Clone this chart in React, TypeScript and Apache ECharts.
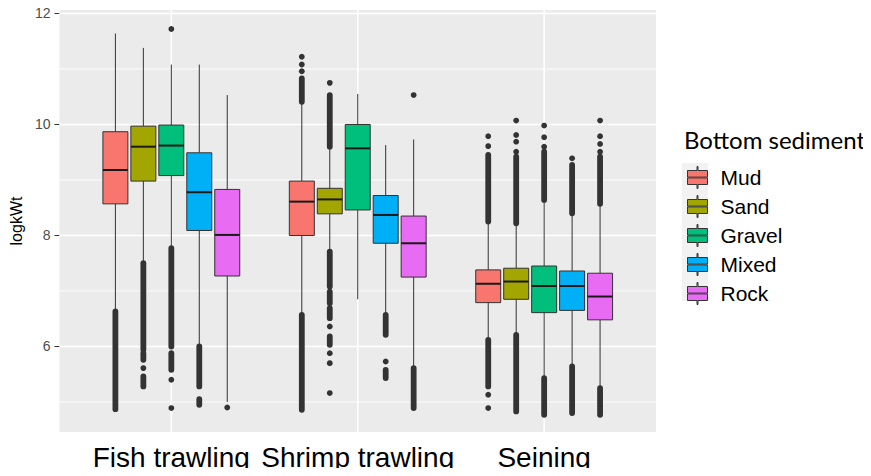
import React, { useEffect, useRef } from "react";
import * as echarts from "echarts";

// ---------- data ----------
const categories = ["Fish trawling", "Shrimp trawling", "Seining"];
const sediments = ["Mud", "Sand", "Gravel", "Mixed", "Rock"];
const colors = ["#F8766D", "#A3A500", "#00BF7D", "#00B0F6", "#E76BF3"];

// box stats per category: [lowerWhisker, Q1, median, Q3, upperWhisker]
const mudBoxes = [
  [6.63, 8.57, 9.18, 9.87, 11.64],
  [6.57, 8.0, 8.61, 8.98, 10.41],
  [6.12, 6.79, 7.13, 7.38, 8.25],
];
const sandBoxes = [
  [7.5, 8.98, 9.6, 9.97, 11.38],
  [7.71, 8.39, 8.65, 8.85, 9.6],
  [6.21, 6.85, 7.17, 7.41, 8.22],
];
const gravelBoxes = [
  [7.77, 9.08, 9.62, 9.99, 11.08],
  [6.85, 8.46, 9.57, 10.0, 10.55],
  [5.43, 6.61, 7.09, 7.45, 8.64],
];
const mixedBoxes = [
  [6.0, 8.09, 8.78, 9.49, 11.08],
  [6.57, 7.86, 8.37, 8.72, 9.63],
  [5.64, 6.65, 7.09, 7.36, 8.4],
];
const rockBoxes = [
  [5.0, 7.27, 8.01, 8.83, 10.53],
  [5.61, 7.25, 7.86, 8.35, 9.73],
  [5.25, 6.48, 6.9, 7.32, 8.57],
];

// outliers: [categoryIndex (0-based), low, high] (low === high -> a single point, else a dense run of points)
const mudOutliers = [
  [0, 4.87, 6.63],
  [1, 11.22, 11.22], [1, 11.08, 11.08], [1, 10.96, 10.96], [1, 10.41, 10.83], [1, 4.86, 6.57],
  [2, 9.79, 9.79], [2, 9.61, 9.61], [2, 8.25, 9.45], [2, 5.28, 6.12], [2, 5.13, 5.13], [2, 4.89, 4.89],
];
const sandOutliers = [
  [0, 5.94, 7.5], [0, 5.76, 5.88], [0, 5.61, 5.61], [0, 5.28, 5.46],
  [1, 10.75, 10.75], [1, 9.6, 10.53], [1, 7.08, 7.71], [1, 6.78, 6.99], [1, 6.51, 6.69],
  [1, 6.36, 6.36], [1, 6.03, 6.18], [1, 5.88, 5.88], [1, 5.7, 5.7], [1, 5.16, 5.16],
  [2, 10.07, 10.07], [2, 9.81, 9.81], [2, 9.69, 9.69], [2, 9.51, 9.51], [2, 8.22, 9.42], [2, 4.83, 6.21],
];
const gravelOutliers = [
  [0, 11.72, 11.72], [0, 6.0, 7.77], [0, 5.58, 5.88], [0, 5.4, 5.4], [0, 4.89, 4.89],
  [2, 9.98, 9.98], [2, 9.77, 9.77], [2, 9.6, 9.6], [2, 8.64, 9.51], [2, 4.77, 5.43],
];
const mixedOutliers = [
  [0, 5.28, 6.0], [0, 4.95, 5.05],
  [1, 6.21, 6.57], [1, 5.73, 5.73], [1, 5.43, 5.58],
  [2, 9.39, 9.39], [2, 8.4, 9.27], [2, 4.8, 5.64],
];
const rockOutliers = [
  [0, 4.9, 4.9],
  [1, 10.53, 10.53], [1, 4.89, 5.61],
  [2, 10.07, 10.07], [2, 9.79, 9.79], [2, 9.65, 9.65], [2, 9.51, 9.51], [2, 8.57, 9.42], [2, 4.77, 5.25],
];

const yMajorTicks = [6, 8, 10, 12];
const yMinorTicks = [5, 7, 9, 11];
const xTicks = [1, 2, 3];

const allBoxes = [mudBoxes, sandBoxes, gravelBoxes, mixedBoxes, rockBoxes];
const allOutliers = [mudOutliers, sandOutliers, gravelOutliers, mixedOutliers, rockOutliers];

// ---------- layout / style ----------
const DODGE = 0.15;
const BOX_W = 0.134;
const DARK = "#333333";

const legendIcon =
  "path://M9.5,0 L10.5,0 L10.5,4 L20,4 L20,10.6 L0,10.6 L0,4 L9.5,4 Z M0,11.4 L20,11.4 L20,18 L10.5,18 L10.5,22 L9.5,22 L9.5,18 L0,18 Z";

export default function App() {
  const ref = useRef<HTMLDivElement>(null);

  useEffect(() => {
    if (!ref.current) return;
    const chart = echarts.init(ref.current, null, { renderer: "svg" });

    const boxSeries = sediments.map((name, s) => ({
      name,
      type: "custom",
      z: 3,
      itemStyle: { color: colors[s] },
      encode: { x: 0, y: [1, 2, 3, 4, 5] },
      data: allBoxes[s].map((b, c) => [c + 1, ...b]),
      renderItem: (params: any, api: any) => {
        const xc = api.value(0) + (s - 2) * DODGE;
        const lo = api.coord([xc, api.value(1)]);
        const q1 = api.coord([xc, api.value(2)]);
        const med = api.coord([xc, api.value(3)]);
        const q3 = api.coord([xc, api.value(4)]);
        const hi = api.coord([xc, api.value(5)]);
        const hw = api.size([BOX_W, 0])[0] / 2;
        const x = q1[0];
        return {
          type: "group",
          children: [
            { type: "line", shape: { x1: x, y1: hi[1], x2: x, y2: q3[1] }, style: { stroke: DARK, lineWidth: 1 } },
            { type: "line", shape: { x1: x, y1: q1[1], x2: x, y2: lo[1] }, style: { stroke: DARK, lineWidth: 1 } },
            {
              type: "rect",
              shape: { x: x - hw, y: q3[1], width: hw * 2, height: q1[1] - q3[1] },
              style: { fill: colors[s], stroke: DARK, lineWidth: 1 },
            },
            {
              type: "line",
              shape: { x1: x - hw, y1: med[1], x2: x + hw, y2: med[1] },
              style: { stroke: "#1a1a1a", lineWidth: 2 },
            },
          ],
        };
      },
    }));

    const outlierSeries = sediments.map((name, s) => ({
      name,
      type: "custom",
      z: 4,
      itemStyle: { color: colors[s] },
      encode: { x: 0, y: [1, 2] },
      data: allOutliers[s].map(([c, lo, hi]) => [c + 1, lo, hi]),
      renderItem: (params: any, api: any) => {
        const xc = api.value(0) + (s - 2) * DODGE;
        const lo = api.coord([xc, api.value(1)]);
        const hi = api.coord([xc, api.value(2)]);
        if (Math.abs(lo[1] - hi[1]) < 0.5) {
          return { type: "circle", shape: { cx: lo[0], cy: lo[1], r: 2.9 }, style: { fill: DARK } };
        }
        return {
          type: "line",
          shape: { x1: lo[0], y1: lo[1], x2: hi[0], y2: hi[1] },
          style: { stroke: DARK, lineWidth: 5.8, lineCap: "round" },
        };
      },
    }));

    const hGridSeries = {
      type: "custom",
      silent: true,
      z: 1,
      encode: { y: 0 },
      data: [...yMinorTicks.map((v) => [v, 0]), ...yMajorTicks.map((v) => [v, 1])],
      renderItem: (params: any, api: any) => {
        const cs = params.coordSys;
        const p = api.coord([1, api.value(0)]);
        return {
          type: "line",
          shape: { x1: cs.x, y1: p[1], x2: cs.x + cs.width, y2: p[1] },
          style: { stroke: "#ffffff", lineWidth: api.value(1) ? 1.6 : 0.9 },
        };
      },
    };

    const vGridSeries = {
      type: "custom",
      silent: true,
      z: 1,
      encode: { x: 0 },
      data: xTicks.map((v) => [v]),
      renderItem: (params: any, api: any) => {
        const cs = params.coordSys;
        const p = api.coord([api.value(0), 8]);
        return {
          type: "line",
          shape: { x1: p[0], y1: cs.y, x2: p[0], y2: cs.y + cs.height },
          style: { stroke: "#ffffff", lineWidth: 1.6 },
        };
      },
    };

    chart.setOption({
      animation: false,
      backgroundColor: "#ffffff",
      title: {
        text: "Bottom sediment",
        left: 684,
        top: 127,
        padding: 0,
        textStyle: { fontFamily: "Lato", fontSize: 24, fontWeight: "normal", color: "#000" },
      },
      graphic: [
        {
          type: "rect",
          z: 0,
          shape: { x: 682, y: 163, width: 26, height: 138 },
          style: { fill: "#F2F2F2" },
        },
      ],
      legend: {
        orient: "vertical",
        left: 687,
        top: 166,
        padding: 0,
        itemWidth: 20,
        itemHeight: 22,
        itemGap: 6,
        selectedMode: false,
        textStyle: { fontFamily: "Liberation Sans", fontSize: 21, color: "#000", padding: [0, 0, 0, 8] },
        data: sediments.map((name, s) => ({
          name,
          icon: legendIcon,
          itemStyle: { color: colors[s], borderColor: DARK, borderWidth: 1 },
        })),
      },
      grid: { left: 58, top: 10, width: 598, height: 422, containLabel: false, show: true, backgroundColor: "#EBEBEB", borderWidth: 0 },
      xAxis: {
        type: "value",
        min: 0.4,
        max: 3.6,
        axisLine: { show: false },
        axisTick: { show: false },
        splitLine: { show: false },
        axisLabel: {
          customValues: xTicks,
          formatter: (v: number) => categories[Math.round(v) - 1] ?? "",
          fontFamily: "Liberation Sans",
          fontSize: 28,
          color: "#000",
          margin: 11,
        },
      },
      yAxis: {
        type: "value",
        min: 4.459,
        max: 12.063,
        name: "logkWt",
        nameLocation: "middle",
        nameRotate: 90,
        nameGap: 30,
        nameTextStyle: { fontFamily: "Liberation Sans", fontSize: 16, color: "#000" },
        axisLine: { show: false },
        axisTick: { show: true, length: 5, customValues: yMajorTicks, lineStyle: { color: DARK, width: 1 } },
        splitLine: { show: false },
        axisLabel: {
          customValues: yMajorTicks,
          fontFamily: "Liberation Sans",
          fontSize: 14,
          color: "#4D4D4D",
          margin: 9,
        },
      },
      series: [hGridSeries, vGridSeries, ...boxSeries, ...outlierSeries],
    });

    return () => chart.dispose();
  }, []);

  return <div ref={ref} style={{ width: 871, height: 476, margin: -8 }} />;
}
